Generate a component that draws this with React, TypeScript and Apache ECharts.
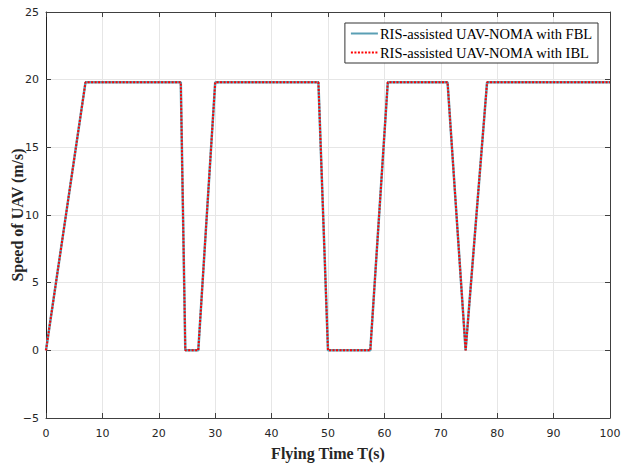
import React, { useEffect, useRef } from "react";
import * as echarts from "echarts";

const timeFBL = [0, 7, 23.9, 24.7, 27, 30, 48.3, 50, 57.5, 60.6, 71.2, 74.4, 78.2, 100];
const speedFBL = [0, 19.8, 19.8, 0, 0, 19.8, 19.8, 0, 0, 19.8, 19.8, 0, 19.8, 19.8];
const timeIBL = [0, 7, 23.9, 24.7, 27, 30, 48.3, 50, 57.5, 60.6, 71.2, 74.4, 78.2, 100];
const speedIBL = [0, 19.8, 19.8, 0, 0, 19.8, 19.8, 0, 0, 19.8, 19.8, 0, 19.8, 19.8];
const seriesNames = ["RIS-assisted UAV-NOMA with FBL", "RIS-assisted UAV-NOMA with IBL"];

export default function App() {
  const ref = useRef<HTMLDivElement>(null);
  useEffect(() => {
    if (!ref.current) return;
    const chart = echarts.init(ref.current, null, { renderer: "svg" });
    const axisColor = "#404040";
    const fmt = (v: number) => String(v).replace("-", "\u2212");
    const labelStyle = { color: "#262626", fontFamily: "DejaVu Sans", fontSize: 11, formatter: fmt };
    chart.setOption({
      animation: false,
      backgroundColor: "#fff",
      grid: { left: 46, top: 12, right: 15, bottom: 48, containLabel: false, outerBoundsMode: "none" },
      legend: {
        orient: "vertical",
        right: 27,
        top: 23,
        itemWidth: 27,
        itemHeight: 14,
        itemGap: 4,
        padding: [3, 5, 3, 5],
        borderColor: "#333",
        borderWidth: 1,
        backgroundColor: "#fff",
        itemStyle: { opacity: 0 },
        textStyle: { fontFamily: "Liberation Serif", fontSize: 14.5, color: "#000", padding: [0, 0, 0, -3] },
        data: seriesNames,
      },
      xAxis: [
        {
          type: "value",
          min: 0,
          max: 100,
          interval: 10,
          name: "Flying Time T(s)",
          nameLocation: "middle",
          nameGap: 27,
          nameMoveOverlap: false,
          nameTextStyle: { fontFamily: "Liberation Serif", fontWeight: "bold", fontSize: 16, color: "#262626" },
          axisLine: { onZero: false, lineStyle: { color: axisColor, width: 1 } },
          axisTick: { inside: true, length: 5, lineStyle: { color: axisColor } },
          axisLabel: { ...labelStyle, margin: 10 },
          splitLine: { show: true, lineStyle: { color: "#e6e6e6", width: 1 } },
        },
        {
          type: "value",
          position: "top",
          min: 0,
          max: 100,
          interval: 10,
          axisLine: { onZero: false, lineStyle: { color: axisColor, width: 1 } },
          axisTick: { inside: true, length: 5, lineStyle: { color: axisColor } },
          axisLabel: { show: false },
          splitLine: { show: false },
        },
      ],
      yAxis: [
        {
          type: "value",
          min: -5,
          max: 25,
          interval: 5,
          name: "Speed of UAV (m/s)",
          nameLocation: "middle",
          nameGap: 21,
          nameMoveOverlap: false,
          nameTextStyle: { fontFamily: "Liberation Serif", fontWeight: "bold", fontSize: 16, color: "#262626" },
          axisLine: { onZero: false, lineStyle: { color: "#202020", width: 1 } },
          axisTick: { inside: true, length: 5, lineStyle: { color: axisColor } },
          axisLabel: { ...labelStyle, margin: 7 },
          splitLine: { show: true, lineStyle: { color: "#e6e6e6", width: 1 } },
        },
        {
          type: "value",
          position: "right",
          min: -5,
          max: 25,
          interval: 5,
          axisLine: { show: true, onZero: false, lineStyle: { color: axisColor, width: 1 } },
          axisTick: { show: true, inside: true, length: 5, lineStyle: { color: axisColor } },
          axisLabel: { show: false },
          splitLine: { show: false },
        },
      ],
      series: [
        {
          name: seriesNames[0],
          type: "line",
          showSymbol: false,
          symbol: "none",
          data: timeFBL.map((t, i) => [t, speedFBL[i]]),
          lineStyle: { color: "#5a9fb4", width: 2.5, type: "solid" },
          itemStyle: { color: "#5a9fb4" },
        },
        {
          name: seriesNames[1],
          type: "line",
          showSymbol: false,
          symbol: "none",
          data: timeIBL.map((t, i) => [t, speedIBL[i]]),
          lineStyle: { color: "#ff0000", width: 2, type: [2, 1.5] },
          itemStyle: { color: "#ff0000" },
        },
      ],
    });
    return () => chart.dispose();
  }, []);
  return <div ref={ref} style={{ width: 625, height: 466, position: "absolute", left: 0, top: 0 }} />;
}
